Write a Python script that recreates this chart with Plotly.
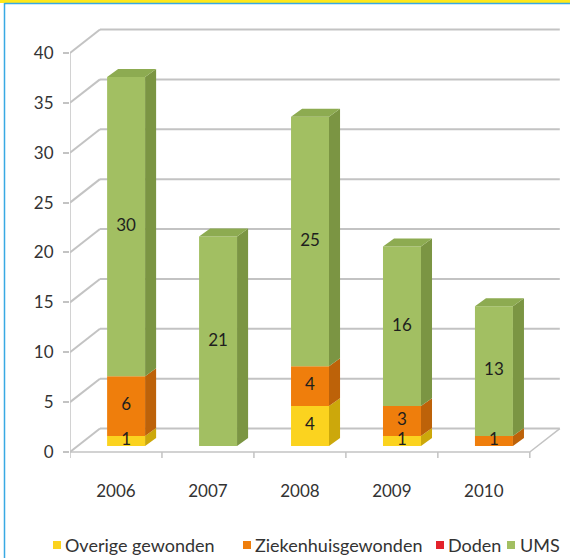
import plotly.graph_objects as go

# ---------------- data ----------------
years = ["2006", "2007", "2008", "2009", "2010"]
series_names = ["Overige gewonden", "Ziekenhuisgewonden", "Doden", "UMS"]
overige = [1, 0, 4, 1, 0]
ziekenhuis = [6, 0, 4, 3, 1]
doden = [0, 0, 0, 0, 0]
ums = [30, 21, 25, 16, 13]
y_ticks = [0, 5, 10, 15, 20, 25, 30, 35, 40]

series_values = [overige, ziekenhuis, doden, ums]

# ---------------- style ----------------
front_colors = ["#FBD31F", "#EF7E0C", "#E3222B", "#A2BF62"]
side_colors = ["#CCA80B", "#BD6209", "#B01A20", "#7B9543"]
top_colors = ["#E4BD15", "#D66F09", "#C81E25", "#8DAB51"]
FONT = "Lato"
TXT = "#333333"

W, H = 570, 558
L, R, T, B = 70, 8, 27, 99
x_range = [-0.5, 4.85]
y_range = [-0.7, 42.6]

DX, DY = 0.326, 2.35     # depth of the back wall (data units)
BX, BY = 0.11, 0.6       # offset of bar front face into the depth
BW = 0.413               # bar width
SX, SY = 0.12, 0.8       # bar depth (side / top faces)
GRID = "#C3C3C3"

n = len(years)
xs = list(range(n))

fig = go.Figure()

# ---------- back wall gridlines, floor and front axis (shapes, below traces) ----------
shapes = []
def seg(x0, y0, x1, y1, color=GRID, width=2):
    shapes.append(dict(type="line", xref="x", yref="y", x0=x0, y0=y0, x1=x1, y1=y1,
                       line=dict(color=color, width=width), layer="below"))

xl, xr = -0.5, n - 0.5
for v in y_ticks:
    seg(xl, v, xl + DX, v + DY)
    seg(xl + DX, v + DY, xr + DX, v + DY)
# floor
seg(xl, 0, xr, 0, width=1.5)
seg(xr, 0, xr + DX, DY, width=1.5)
# front axis
seg(xl, 0, xl, max(y_ticks), width=1.5)
# category tick marks on the floor front edge
for k in range(n + 1):
    seg(xl + k, 0, xl + k, -0.6, width=1.5)

# ---------- bars: front faces ----------
cum = [0.0] * n
seg_info = []  # (series idx, category idx, bottom, top)
for si, (name, vals) in enumerate(zip(series_names, series_values)):
    bases = [BY + c for c in cum]
    fig.add_trace(go.Bar(
        x=[i + BX for i in xs], y=vals, base=bases, width=BW,
        name=name, marker=dict(color=front_colors[si], line=dict(width=0)),
        showlegend=False, hoverinfo="skip"))
    for i in xs:
        if vals[i] > 0:
            seg_info.append((si, i, BY + cum[i], BY + cum[i] + vals[i]))
    cum = [c + v for c, v in zip(cum, vals)]

# ---------- side faces ----------
for si in range(len(series_names)):
    px, py = [], []
    for (s, i, y0, y1) in seg_info:
        if s != si:
            continue
        x1 = i + BX + BW / 2
        px += [x1, x1 + SX, x1 + SX, x1, x1, None]
        py += [y0, y0 + SY, y1 + SY, y1, y0, None]
    if px:
        fig.add_trace(go.Scatter(x=px, y=py, mode="lines", fill="toself",
                                 fillcolor=side_colors[si], line=dict(width=0, color=side_colors[si]),
                                 showlegend=False, hoverinfo="skip"))

# ---------- top faces ----------
for si in range(len(series_names)):
    px, py = [], []
    for i in xs:
        tops = [(s, y1) for (s, j, y0, y1) in seg_info if j == i]
        if not tops:
            continue
        s_top, y1 = max(tops, key=lambda t: t[1])
        if s_top != si:
            continue
        x0 = i + BX - BW / 2
        x1 = i + BX + BW / 2
        px += [x0, x0 + SX, x1 + SX, x1, x0, None]
        py += [y1, y1 + SY, y1 + SY, y1, y1, None]
    if px:
        fig.add_trace(go.Scatter(x=px, y=py, mode="lines", fill="toself",
                                 fillcolor=top_colors[si], line=dict(width=0, color=top_colors[si]),
                                 showlegend=False, hoverinfo="skip"))

# ---------- data labels ----------
lx, ly, lt = [], [], []
for (s, i, y0, y1) in seg_info:
    lx.append(i + BX)
    ly.append((y0 + y1) / 2)
    lt.append(str(series_values[s][i]))
fig.add_trace(go.Scatter(x=lx, y=ly, text=lt, mode="text",
                         textfont=dict(family=FONT, size=17, color="#1E1E1E"),
                         showlegend=False, hoverinfo="skip"))

# ---------- frame decorations (paper coords) ----------
ph = H - T - B
pw = W - L - R
def pxx(x):
    return (x - L) / pw
def pyy(y):
    return (H - B - y) / ph

shapes.append(dict(type="rect", xref="paper", yref="paper", x0=pxx(0), x1=pxx(W), y0=pyy(0), y1=pyy(3),
                   fillcolor="#FFE81A", line=dict(width=0), layer="above"))
shapes.append(dict(type="line", xref="paper", yref="paper", x0=pxx(4.5), x1=pxx(W), y0=pyy(3.5), y1=pyy(3.5),
                   line=dict(color="#38A9E3", width=1.5), layer="above"))
shapes.append(dict(type="line", xref="paper", yref="paper", x0=pxx(4.5), x1=pxx(4.5), y0=pyy(3), y1=pyy(H),
                   line=dict(color="#38A9E3", width=1.5), layer="above"))

# ---------- legend built from annotations ----------
legend_items = [(53, 65), (243, 255), (436, 448), (507, 520)]
annotations = []
LEG_Y = 545
for si, (mx, tx) in enumerate(legend_items):
    shapes.append(dict(type="rect", xref="paper", yref="paper",
                       x0=pxx(mx), x1=pxx(mx + 8), y0=pyy(LEG_Y + 4), y1=pyy(LEG_Y - 4),
                       fillcolor=front_colors[si], line=dict(width=0), layer="above"))
    annotations.append(dict(xref="paper", yref="paper", x=pxx(tx - 2), y=pyy(LEG_Y),
                            xanchor="left", yanchor="middle", showarrow=False,
                            text=series_names[si],
                            font=dict(family=FONT, size=18, color=TXT)))

fig.update_layout(
    width=W, height=H,
    margin=dict(l=L, r=R, t=T, b=B, pad=0),
    paper_bgcolor="white", plot_bgcolor="white",
    barmode="overlay",
    showlegend=False,
    shapes=shapes,
    annotations=annotations,
    font=dict(family=FONT, color=TXT),
    xaxis=dict(range=x_range, tickmode="array", tickvals=xs, ticktext=years,
               showgrid=False, zeroline=False, showline=False, ticks="",
               tickfont=dict(family=FONT, size=17, color=TXT), ticklabelstandoff=20,
               fixedrange=True),
    yaxis=dict(range=y_range, tickmode="array", tickvals=y_ticks,
               showgrid=False, zeroline=False, showline=False,
               ticks="outside", ticklen=6, tickcolor=GRID, tickwidth=1.5,
               tickfont=dict(family=FONT, size=17, color=TXT), ticklabelstandoff=6,
               fixedrange=True),
)

fig.write_html("out.html")
